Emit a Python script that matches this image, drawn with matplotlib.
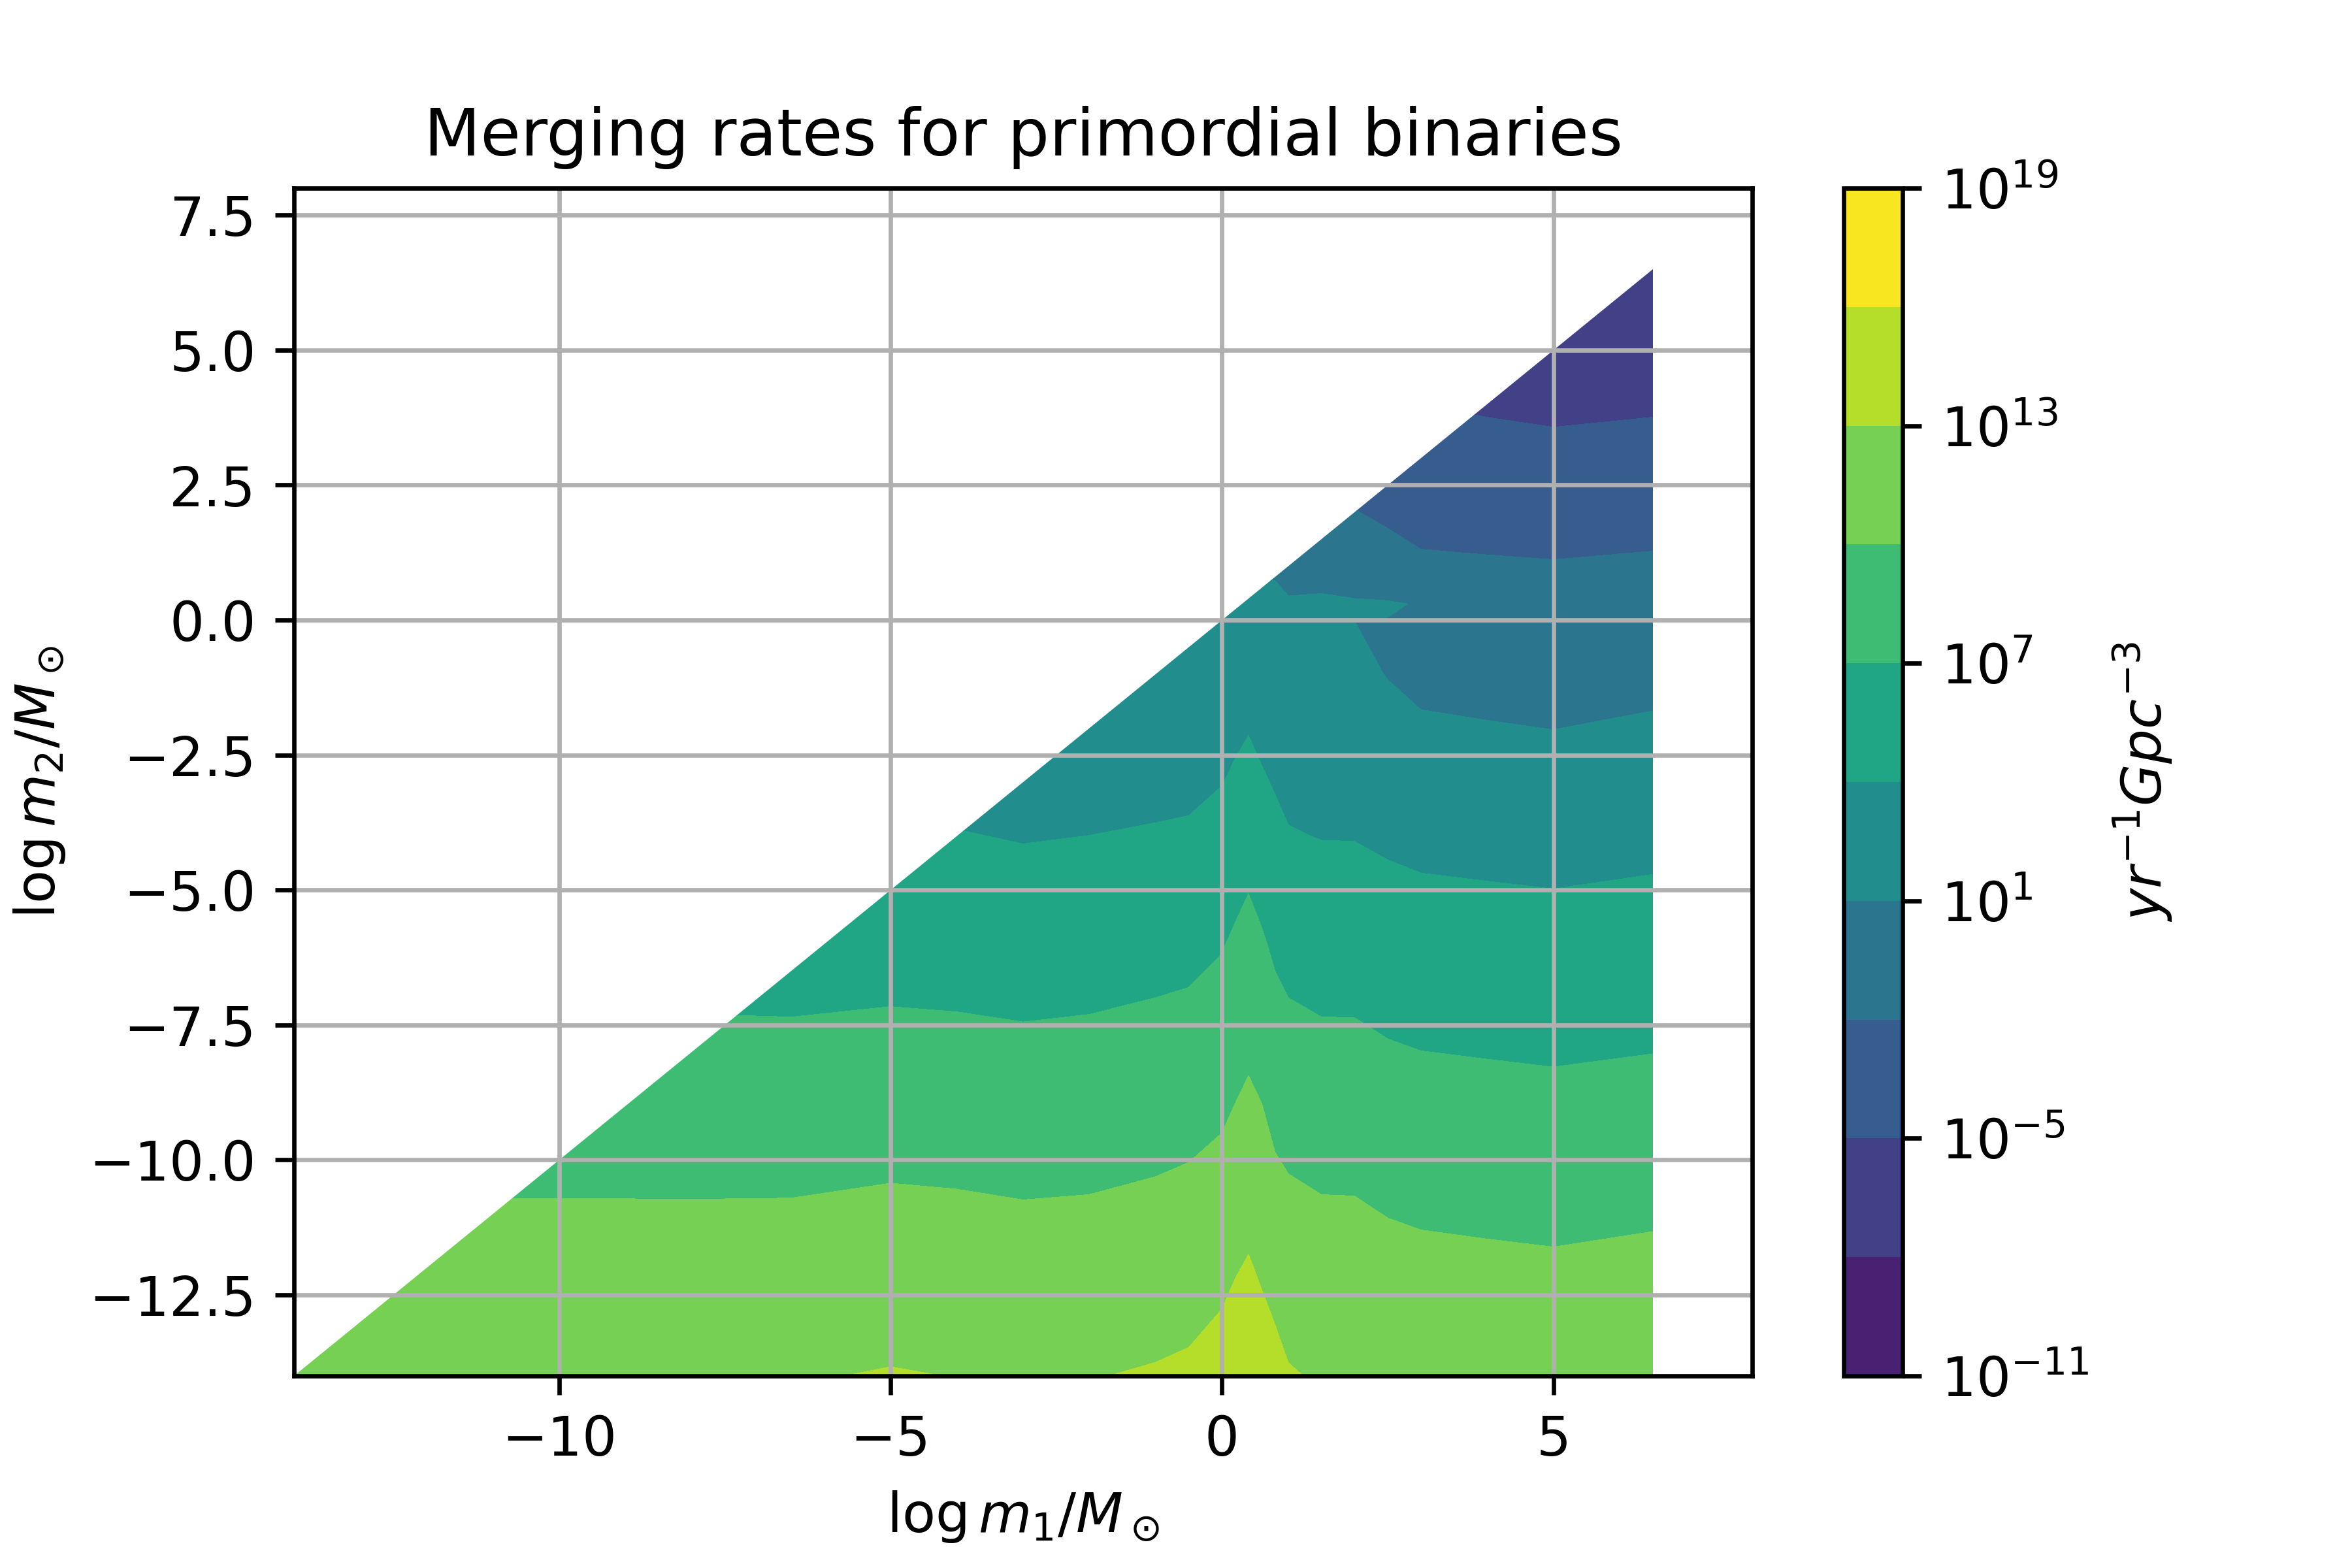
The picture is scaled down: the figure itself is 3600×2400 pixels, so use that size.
import numpy as np
import matplotlib
matplotlib.use("Agg")
import matplotlib.pyplot as plt
from matplotlib.colors import ListedColormap
from matplotlib.patches import Polygon

nan = np.nan

# grid nodes: log10(m1/Msun) along x, log10(m2/Msun) along y
log_m1 = [-14, -12, -10, -8, -6.5, -5, -4, -3, -2, -1, -0.5, 0, 0.2, 0.4,
          0.6, 0.8, 1.0, 1.5, 2.0, 2.5, 3.0, 4.0, 5.0, 6.5]
log_m2 = [-14, -12, -10, -8, -6, -4, -2, -1, 0, 0.3, 1, 2, 3, 4, 5, 6.5]

# log10 merging rate [yr^-1 Gpc^-3], one row per log_m2 node
log_rate = [
    [12.83, 12.83, 12.84, 12.85, 12.83, 13.15, 12.96, 12.83, 12.91, 13.22, 13.46, 14.14,
     14.66, 15.04, 14.39, 13.89, 13.20, 12.76, 12.72, 12.50, 12.38, 12.22, 12.12, 12.38],
    [11.10, 11.10, 11.09, 11.10, 11.12, 11.39, 11.27, 11.11, 11.19, 11.48, 11.72, 12.30,
     12.82, 13.23, 12.65, 12.02, 11.57, 11.14, 11.12, 10.81, 10.63, 10.48, 10.35, 10.61],
    [nan, 9.40, 9.40, 9.37, 9.39, 9.62, 9.53, 9.35, 9.44, 9.73, 9.96, 10.45,
     10.94, 11.39, 10.97, 10.13, 9.77, 9.46, 9.44, 9.06, 8.84, 8.69, 8.55, 8.80],
    [nan, nan, 7.57, 7.62, 7.57, 7.77, 7.67, 7.51, 7.63, 7.92, 8.12, 8.65,
     9.15, 9.61, 9.12, 8.36, 7.94, 7.60, 7.59, 7.22, 7.02, 6.88, 6.75, 6.97],
    [nan, nan, nan, 5.86, 5.81, 5.94, 5.87, 5.68, 5.82, 6.09, 6.25, 6.84,
     7.40, 7.96, 7.31, 6.55, 6.07, 5.75, 5.74, 5.41, 5.23, 5.10, 4.98, 5.20],
    [nan, nan, nan, nan, 4.05, 4.12, 4.11, 3.87, 4.01, 4.23, 4.36, 4.86,
     5.40, 5.90, 5.27, 4.62, 4.14, 3.93, 3.91, 3.60, 3.36, 3.21, 3.06, 3.34],
    [nan] * 6 + [2.31, 2.07, 2.21, 2.37, 2.46, 3.00,
                 3.45, 3.86, 3.33, 3.02, 2.78, 2.66, 2.29, 1.70, 1.34, 1.14, 0.97, 1.32],
    [nan] * 8 + [1.31, 1.44, 1.51, 2.11,
                 2.54, 2.91, 2.43, 2.29, 2.12, 2.02, 1.55, 0.92, 0.34, 0.17, 0.03, 0.32],
    [nan] * 9 + [0.65, 0.75, 1.22,
                 1.63, 1.95, 1.54, 1.57, 1.46, 1.38, 0.99, 0.97, -0.66, -0.79, -0.91, -0.67],
    [nan] * 11 + [0.97,
                  1.36, 1.67, 1.32, 1.32, 1.15, 1.15, 1.10, 1.15, 0.90, -1.08, -1.19, -0.97],
    [nan] * 12 + [0.72, 1.00, 0.80, 0.80, 0.44, 0.60, 0.40, -0.60, -1.66, -1.76, -1.85, -1.67],
    [nan] * 16 + [-1.44, -1.63, -1.90, -2.60, -2.75, -2.91, -3.10, -2.86],
    [nan] * 18 + [-3.43, -3.80, -3.88, -4.13, -4.41, -4.15],
    [nan] * 20 + [-5.00, -5.28, -5.44, -5.27],
    [nan] * 21 + [-6.28, -6.24, -6.07],
    [nan] * 22 + [-7.44, -7.27],
]

# contour levels and colorbar ticks, as powers of ten
level_exp = [-11, -8, -5, -2, 1, 4, 7, 10, 13, 16, 19]
cbar_tick_exp = [-11, -5, 1, 7, 13, 19]
xticks = [-10, -5, 0, 5]
yticks = [-12.5, -10.0, -7.5, -5.0, -2.5, 0.0, 2.5, 5.0, 7.5]

# old-style contourf colouring (arithmetic layer midpoints on a log norm)
band_cmap = ListedColormap(plt.cm.viridis(np.linspace(0.09, 0.99, len(level_exp) - 1)))

fig, ax = plt.subplots(figsize=(6, 4), dpi=600)
fig.subplots_adjust(bottom=0.1225)

M1, M2 = np.meshgrid(log_m1, log_m2)
Z = np.ma.masked_invalid(np.array(log_rate))

cs = ax.contourf(M1, M2, Z, levels=level_exp, cmap=band_cmap)

# only m2 <= m1 is physical
tri = Polygon([(log_m1[0], log_m2[0]), (log_m1[-1], log_m2[0]), (log_m1[-1], log_m1[-1])],
              closed=True, transform=ax.transData)
cs.set_clip_path(tri)

ax.set_xlim(-14, 8)
ax.set_ylim(-14, 8)
ax.set_xticks(xticks)
ax.set_yticks(yticks)
ax.grid(True)
ax.set_xlabel(r'$\log m_1/M_\odot$')
ax.set_ylabel(r'$\log m_2/M_\odot$')
ax.set_title('Merging rates for primordial binaries')

cbar = fig.colorbar(cs, ax=ax)
cbar.set_ticks(cbar_tick_exp)
cbar.set_ticklabels([r'$\mathdefault{10^{%d}}$' % e for e in cbar_tick_exp])
cbar.set_label(r'$yr^{-1} Gpc^{-3}$')

fig.savefig('out.png', dpi=600)
